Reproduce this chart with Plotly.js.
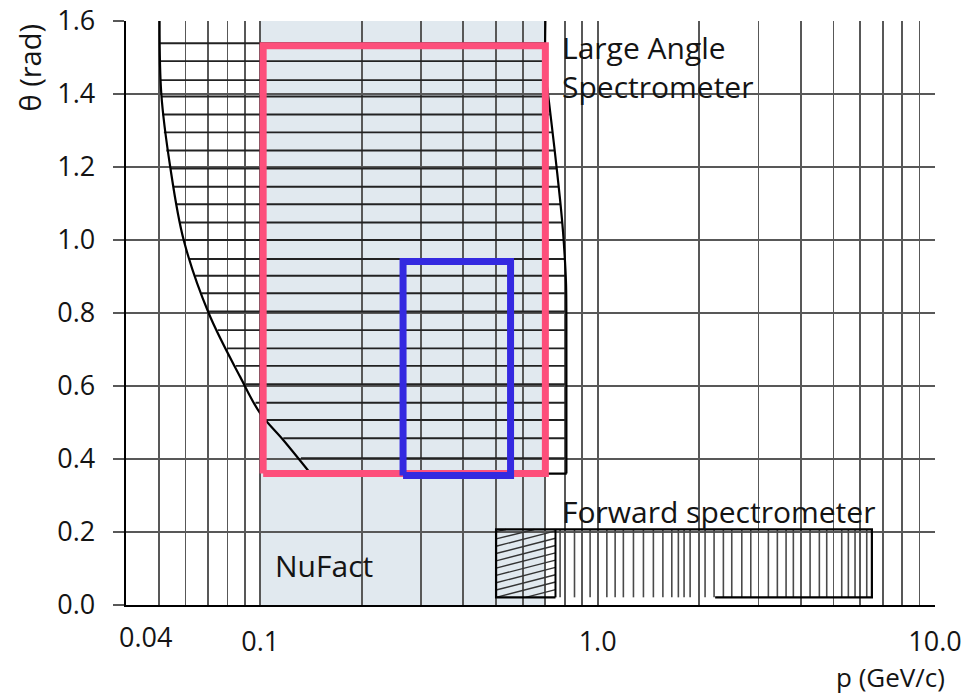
<!DOCTYPE html>
<html>
<head>
<meta charset="utf-8">
<script src="https://cdn.plot.ly/plotly-3.0.1.min.js"></script>
<style>
  html, body { margin: 0; padding: 0; background: #ffffff; }
  #chart { width: 967px; height: 697px; }
</style>
</head>
<body>
<div id="chart"></div>
<script>
// ---- acceptance regions in (p [GeV/c], theta [rad]) ----

// NuFact momentum band (full theta range)
const nufactP = [0.1, 0.70];
const nufactTheta = [0.0, 1.6];

// Large Angle Spectrometer outline: left edge (top to bottom), bottom edge, right edge (bottom to top)
const lasLeftP = [0.0503, 0.0509, 0.0541, 0.0593, 0.0703, 0.0872, 0.1, 0.117, 0.141];
const lasLeftTheta = [1.6, 1.4, 1.2, 1.0, 0.8, 0.625, 0.525, 0.452, 0.36];
const lasBottomP = [0.141, 0.810];
const lasBottomTheta = [0.36, 0.36];
const lasRightP = [0.808, 0.808, 0.806, 0.79, 0.774, 0.745, 0.715, 0.70, 0.70];
const lasRightTheta = [0.36, 0.70, 0.88, 1.02, 1.11, 1.25, 1.39, 1.46, 1.6];

// Horizontal hatching inside the Large Angle Spectrometer region
const lasHatchTheta = [1.539, 1.490, 1.438, 1.393, 1.344, 1.295, 1.245, 1.196, 1.146, 1.098, 1.048, 1.000,
                       0.948, 0.902, 0.854, 0.804, 0.753, 0.703, 0.655, 0.605, 0.554, 0.507, 0.457, 0.402];
const lasHatchLeftP = [0.0505, 0.0506, 0.0508, 0.0509, 0.0513, 0.0518, 0.0527, 0.0541, 0.0553, 0.0566, 0.0579, 0.0593,
                       0.0617, 0.0642, 0.067, 0.0704, 0.0748, 0.0797, 0.0846, 0.0905, 0.0968, 0.103, 0.117, 0.132];
const lasHatchRightP = [0.70, 0.70, 0.70, 0.712, 0.72, 0.733, 0.745, 0.755, 0.765, 0.775, 0.785, 0.79,
                        0.795, 0.80, 0.80, 0.80, 0.80, 0.80, 0.80, 0.80, 0.80, 0.80, 0.80, 0.80];

// Forward spectrometer box
const fwdOutlineP = [0.75, 0.5, 0.5, 6.5, 6.5, 2.23];
const fwdOutlineTheta = [0.021, 0.021, 0.207, 0.207, 0.021, 0.021];
const fwdSplitP = [0.75, 0.75];
const fwdTheta = [0.021, 0.207];
// vertical hatching of the forward box
const fwdHatchP = [0.774, 0.854, 0.950, 1.065, 1.127, 1.192, 1.277, 1.367, 1.463, 1.561, 1.659, 1.735, 1.804, 1.880,
                   2.082, 2.214, 2.359, 2.498, 2.675, 2.844, 3.207, 3.410, 3.619, 3.803, 4.263, 4.542, 4.776,
                   5.291, 5.536, 5.794, 6.276];
// diagonal hatching of the low-momentum part of the forward box (segment ends)
const fwdDiagP0 = [0.612, 0.5, 0.5, 0.5, 0.5, 0.5, 0.5, 0.5, 0.5, 0.5, 0.5];
const fwdDiagT0 = [0.021, 0.021, 0.041, 0.061, 0.081, 0.101, 0.121, 0.141, 0.161, 0.181, 0.201];
const fwdDiagP1 = [0.75, 0.75, 0.75, 0.75, 0.75, 0.75, 0.75, 0.75, 0.75, 0.649, 0.535];
const fwdDiagT1 = [0.042, 0.063, 0.083, 0.103, 0.123, 0.143, 0.163, 0.183, 0.203, 0.207, 0.207];

// Highlighted boxes
const pinkP = [0.102, 0.70];
const pinkTheta = [0.36, 1.532];
const blueP = [0.265, 0.552];
const blueTheta = [0.355, 0.941];

// Axis ticks
const yTickVals = [0.0, 0.2, 0.4, 0.6, 0.8, 1.0, 1.2, 1.4, 1.6];
const yTickText = ['0.0', '0.2', '0.4', '0.6', '0.8', '1.0', '1.2', '1.4', '1.6'];
const xTickVals = [0.1, 1, 10];
const xTickText = ['0.1', '1.0', '10.0'];
const xMinorVals = [0.05, 0.06, 0.07, 0.08, 0.09, 0.2, 0.3, 0.4, 0.5, 0.6, 0.7, 0.8, 0.9,
                    2, 3, 4, 5, 6, 7, 8, 9];

// ---- helpers ----
function segments(x0, y0, x1, y1) {
  const xs = [], ys = [];
  for (let i = 0; i < x0.length; i++) {
    xs.push(x0[i], x1[i], null);
    ys.push(y0[i], y1[i], null);
  }
  return { x: xs, y: ys };
}
function box(px, py) {
  return { x: [px[0], px[1], px[1], px[0], px[0]], y: [py[0], py[0], py[1], py[1], py[0]] };
}

const FONT = '"Open Sans", "Noto Sans", sans-serif';
const INK = '#141414';
const GRID = '#585858';

const lasHatch = segments(lasHatchLeftP, lasHatchTheta, lasHatchRightP, lasHatchTheta);
const fwdVert = segments(fwdHatchP, fwdHatchP.map(() => fwdTheta[0]), fwdHatchP, fwdHatchP.map(() => fwdTheta[1]));
const fwdDiag = segments(fwdDiagP0, fwdDiagT0, fwdDiagP1, fwdDiagT1);
const pinkBox = box(pinkP, pinkTheta);
const blueBox = box(blueP, blueTheta);

const edge = { color: '#000000', width: 2.2 };
const traces = [
  { x: lasHatch.x, y: lasHatch.y, mode: 'lines', line: { color: '#222222', width: 1.9 }, hoverinfo: 'skip' },
  { x: lasLeftP, y: lasLeftTheta, mode: 'lines', line: Object.assign({ shape: 'spline', smoothing: 1 }, edge), hoverinfo: 'skip' },
  { x: lasBottomP, y: lasBottomTheta, mode: 'lines', line: edge, hoverinfo: 'skip' },
  { x: lasRightP, y: lasRightTheta, mode: 'lines', line: Object.assign({ shape: 'spline', smoothing: 0.8 }, edge), hoverinfo: 'skip' },
  { x: fwdVert.x, y: fwdVert.y, mode: 'lines', line: { color: '#4a4a4a', width: 1.6 }, hoverinfo: 'skip' },
  { x: fwdDiag.x, y: fwdDiag.y, mode: 'lines', line: { color: '#333333', width: 1.4 }, hoverinfo: 'skip' },
  { x: fwdOutlineP, y: fwdOutlineTheta, mode: 'lines', line: edge, hoverinfo: 'skip' },
  { x: fwdSplitP, y: fwdTheta, mode: 'lines', line: { color: '#000000', width: 2 }, hoverinfo: 'skip' },
  { x: pinkBox.x, y: pinkBox.y, mode: 'lines', line: { color: '#fd4f7b', width: 7 }, hoverinfo: 'skip' },
  { x: blueBox.x, y: blueBox.y, mode: 'lines', line: { color: '#3429e0', width: 7 }, hoverinfo: 'skip' }
];

const layout = {
  width: 967,
  height: 697,
  margin: { l: 126, r: 32, t: 21, b: 92 },
  paper_bgcolor: '#ffffff',
  plot_bgcolor: '#ffffff',
  showlegend: false,
  font: { family: FONT, color: INK },
  xaxis: {
    type: 'log',
    range: [Math.log10(0.04), 1],
    tickmode: 'array',
    tickvals: xTickVals,
    ticktext: xTickText,
    ticks: '',
    tickfont: { family: FONT, size: 27, color: INK },
    ticklabelstandoff: 11,
    showgrid: true,
    gridcolor: GRID,
    gridwidth: 1.8,
    minor: { tickmode: 'array', tickvals: xMinorVals, showgrid: true, gridcolor: GRID, gridwidth: 1.8, ticks: '' },
    showline: true,
    linecolor: '#000000',
    linewidth: 2.4,
    zeroline: false,
    fixedrange: true
  },
  xaxis2: {
    type: 'log',
    overlaying: 'x',
    anchor: 'y',
    range: [Math.log10(0.04), 1],
    tickmode: 'array',
    tickvals: [1, 10],
    ticks: 'outside',
    ticklen: 12,
    tickwidth: 1.8,
    tickcolor: '#444444',
    showticklabels: false,
    showgrid: false,
    showline: false,
    zeroline: false
  },
  yaxis: {
    range: [0, 1.6],
    tickmode: 'array',
    tickvals: yTickVals,
    ticktext: yTickText,
    ticks: 'outside',
    ticklen: 11,
    tickwidth: 1.8,
    tickcolor: GRID,
    tickfont: { family: FONT, size: 27, color: INK },
    ticklabelstandoff: 12,
    showgrid: true,
    gridcolor: GRID,
    gridwidth: 1.8,
    showline: true,
    linecolor: '#000000',
    linewidth: 2.4,
    zeroline: false,
    fixedrange: true
  },
  shapes: [
    {
      type: 'rect', layer: 'below', xref: 'x', yref: 'y',
      x0: nufactP[0], x1: nufactP[1], y0: nufactTheta[0], y1: nufactTheta[1],
      fillcolor: '#e1e9ef', line: { width: 0 }
    }
  ],
  annotations: [
    { text: '0.04', xref: 'paper', yref: 'paper', x: 0, y: 0, xanchor: 'center', yanchor: 'top',
      xshift: 19, yshift: -11, showarrow: false, font: { family: FONT, size: 27, color: INK } },
    { text: 'Large Angle<br>Spectrometer', xref: 'x', yref: 'y', x: Math.log10(0.774), y: 1.59,
      xanchor: 'left', yanchor: 'top', align: 'left', showarrow: false,
      font: { family: FONT, size: 30, color: INK } },
    { text: 'NuFact', xref: 'x', yref: 'y', x: Math.log10(0.1092), y: 0.107,
      xanchor: 'left', yanchor: 'middle', showarrow: false,
      font: { family: FONT, size: 30, color: INK } },
    { text: 'Forward spectrometer', xref: 'x', yref: 'y', x: Math.log10(0.774), y: 0.255,
      xanchor: 'left', yanchor: 'middle', showarrow: false,
      font: { family: FONT, size: 30, color: INK } },
    { text: 'θ (rad)', xref: 'paper', yref: 'paper', x: -0.119, y: 0.92, textangle: -90,
      xanchor: 'center', yanchor: 'middle', showarrow: false,
      font: { family: FONT, size: 29, color: INK } },
    { text: 'p (GeV/c)', xref: 'paper', yref: 'paper', x: 1.0148, y: 0, yshift: -72,
      xanchor: 'right', yanchor: 'middle', showarrow: false,
      font: { family: FONT, size: 26, color: INK } }
  ]
};

Plotly.newPlot('chart', traces, layout, { staticPlot: true, displayModeBar: false });
</script>
</body>
</html>
